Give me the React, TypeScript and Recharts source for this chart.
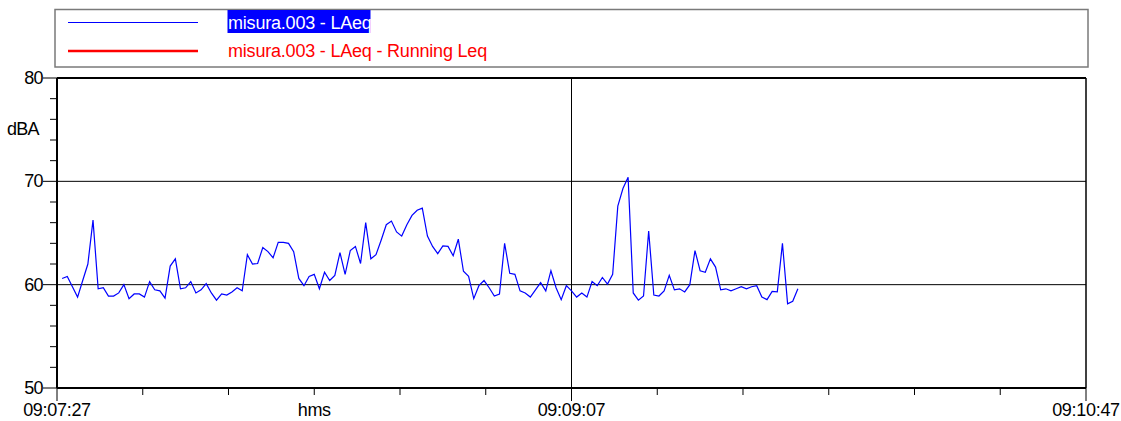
import React from 'react';
import { LineChart, Line, XAxis, YAxis, ReferenceLine } from 'recharts';

// LAeq values, one per second starting at 09:07:28
const laeq: number[] = [
  60.6, 60.8, 59.8, 58.8, 60.4, 62.0, 66.25, 59.6, 59.7, 58.9, 58.9, 59.2, 60.0, 58.65, 59.1, 59.1, 58.8, 60.3,
  59.5, 59.4, 58.7, 61.8, 62.5, 59.6, 59.7, 60.3, 59.2, 59.5, 60.1, 59.2, 58.5, 59.1, 59.0, 59.3, 59.7,
  59.4, 62.9, 62.0, 62.05, 63.6, 63.2, 62.6, 64.1, 64.1, 64.0, 63.2, 60.6, 59.9, 60.8, 61.0, 59.6, 61.2, 60.4,
  60.9, 63.1, 61.0, 63.3, 63.7, 62.05, 66.0, 62.5, 62.9, 64.3, 65.8, 66.15, 65.1, 64.7, 65.8, 66.7, 67.2,
  67.4, 64.7, 63.7, 63.0, 63.75, 63.7, 62.8, 64.4, 61.3, 60.8, 58.65, 59.9, 60.4, 59.7, 58.9, 59.1, 64.0, 61.1,
  61.0, 59.4, 59.2, 58.8, 59.5, 60.2, 59.4, 61.35, 59.7, 58.55, 59.9, 59.4, 58.8, 59.2, 58.8, 60.3, 59.9,
  60.7, 60.06, 61.0, 67.6, 69.3, 70.4, 59.2, 58.5, 58.9, 65.2, 59.0, 58.9, 59.4, 60.9, 59.5, 59.6, 59.3, 60.0,
  63.3, 61.35, 61.2, 62.5, 61.7, 59.5, 59.6, 59.4, 59.6, 59.8, 59.6, 59.8, 59.9, 58.8, 58.55, 59.35, 59.3, 64.0, 58.15, 58.4, 59.6,
];
const firstSecond = 1; // seconds after 09:07:27

const seriesNames = ['misura.003 - LAeq', 'misura.003 - LAeq - Running Leq'];
const seriesColors = ['#0000ff', '#ff0000'];

const xTicks = [0, 16.667, 33.333, 50, 66.667, 83.333, 100, 116.667, 133.333, 150, 166.667, 183.333, 200];
const xTickLabels = ['09:07:27', '', '', 'hms', '', '', '09:09:07', '', '', '', '', '', '09:10:47'];
const xMajor = [0, 100, 200];

const yTicks = [50, 52, 54, 56, 58, 60, 62, 64, 66, 68, 70, 72, 74, 76, 78, 80];
const yMajor = [50, 60, 70, 80];
const yUnit = 'dBA';

const data = laeq.map((v, i) => ({ t: firstSecond + i, v }));

const FONT = '"Liberation Sans", Arial, sans-serif';

const XTick = (props: any) => {
  const { x, y, payload } = props;
  const idx = xTicks.findIndex((t) => Math.abs(t - payload.value) < 0.01);
  const major = xMajor.some((m) => Math.abs(m - payload.value) < 0.01);
  const label = idx >= 0 ? xTickLabels[idx] : '';
  return (
    <g>
      <line x1={x} x2={x} y1={y} y2={y + (major ? 13 : 7)} stroke="#000" strokeWidth={1} />
      {label && (
        <text x={x} y={y + 28} textAnchor="middle" fontSize={18} fontFamily={FONT} fill="#000" letterSpacing={-0.3}>
          {label}
        </text>
      )}
    </g>
  );
};

const YTick = (props: any) => {
  const { x, y, payload } = props;
  const major = yMajor.includes(payload.value);
  return (
    <g>
      <line x1={x - (major ? 14 : 7)} x2={x} y1={y} y2={y} stroke="#000" strokeWidth={1} />
      {major && (
        <text x={x - 14} y={y + 6} textAnchor="end" fontSize={18} fontFamily={FONT} fill="#000" letterSpacing={-0.6}>
          {payload.value}
        </text>
      )}
      {payload.value === 76 && (
        <text x={7} y={y + 16} textAnchor="start" fontSize={18} fontFamily={FONT} fill="#000" letterSpacing={-0.8}>
          {yUnit}
        </text>
      )}
    </g>
  );
};

export default function App() {
  return (
    <div style={{ position: 'absolute', left: 0, top: 0, width: 1121, height: 421, background: '#fff', fontFamily: FONT }}>
      <LineChart width={1121} height={421} data={data} margin={{ top: 78, right: 35, bottom: 0, left: 0 }}>
        <XAxis
          dataKey="t"
          type="number"
          domain={[0, 200]}
          ticks={xTicks}
          interval={0}
          height={33}
          tickSize={0}
          tickMargin={0}
          tickLine={false}
          tick={<XTick />}
          axisLine={{ stroke: '#000', strokeWidth: 2 }}
          allowDataOverflow
        />
        <YAxis
          type="number"
          domain={[50, 80]}
          ticks={yTicks}
          interval={0}
          width={57}
          tickSize={0}
          tickMargin={0}
          tickLine={false}
          tick={<YTick />}
          axisLine={{ stroke: '#000', strokeWidth: 2 }}
          allowDataOverflow
        />
        <ReferenceLine y={60} stroke="#000" strokeWidth={1} />
        <ReferenceLine y={70} stroke="#000" strokeWidth={1} />
        <ReferenceLine x={100} stroke="#000" strokeWidth={1} />
        <ReferenceLine y={80} stroke="#000" strokeWidth={2} />
        <ReferenceLine x={200} stroke="#000" strokeWidth={1.5} />
        <Line
          type="linear"
          dataKey="v"
          name={seriesNames[0]}
          stroke={seriesColors[0]}
          strokeWidth={1.2}
          dot={false}
          isAnimationActive={false}
        />
      </LineChart>
      <svg width={1121} height={80} style={{ position: 'absolute', left: 0, top: 0, pointerEvents: 'none' }}>
        <rect x={55} y={9.5} width={1033} height={57.5} fill="none" stroke="#7a7a7a" strokeWidth={1.5} />
        <line x1={68} x2={198} y1={22.5} y2={22.5} stroke={seriesColors[0]} strokeWidth={1} />
        <rect x={227.5} y={10} width={143} height={23} fill={seriesColors[0]} />
        <text x={228} y={28.5} fontSize={18} fontFamily={FONT} fill="#fff" letterSpacing={-0.2}>
          {seriesNames[0]}
        </text>
        <line x1={68} x2={198} y1={51} y2={51} stroke={seriesColors[1]} strokeWidth={2.5} />
        <text x={228} y={57} fontSize={18} fontFamily={FONT} fill={seriesColors[1]} letterSpacing={-0.2}>
          {seriesNames[1]}
        </text>
      </svg>
    </div>
  );
}
